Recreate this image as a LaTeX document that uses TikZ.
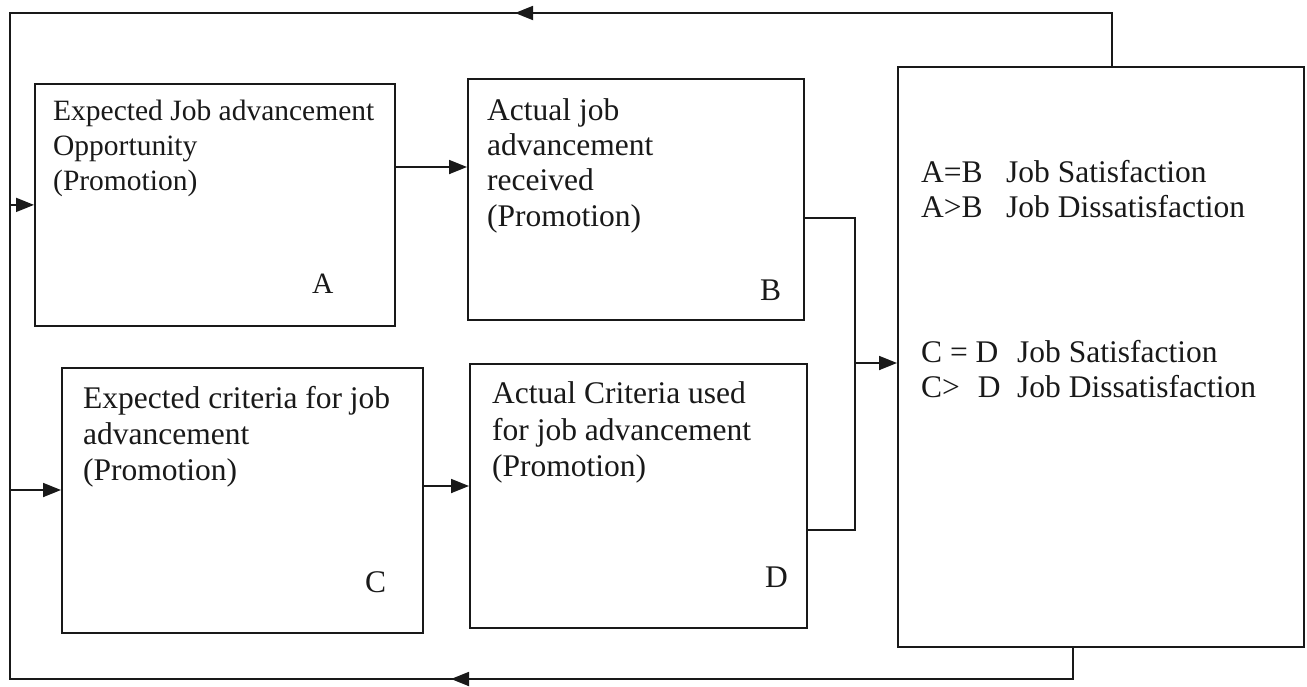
\documentclass[tikz,border=0pt]{standalone}
\usepackage{fontspec}
\setmainfont{Liberation Serif}
\usetikzlibrary{arrows.meta}
\begin{document}
\begin{tikzpicture}[x=1pt,y=-1pt,
  ln/.style={line width=1.8pt, color=black!90},
  box/.style={ln, draw, rectangle, inner sep=0pt, anchor=north west},
  arr/.style={ln, -{Triangle[length=18pt,width=14pt]}},
  txt/.style={anchor=base west, inner sep=0pt, text=black!90, font=\fontsize{31.5}{36}\selectfont},
  txts/.style={txt, font=\fontsize{29.5}{35}\selectfont}]
\fill[white] (0,0) rectangle (1307,686);
\useasboundingbox (0,0) rectangle (1307,686);

% boxes
\node[box, minimum width=360pt, minimum height=242pt] (A) at (34,83) {};
\node[box, minimum width=336pt, minimum height=241pt] (B) at (467,78) {};
\node[box, minimum width=361pt, minimum height=265pt] (C) at (61,367) {};
\node[box, minimum width=337pt, minimum height=264pt] (D) at (469,363) {};
\node[box, minimum width=406pt, minimum height=580pt] (R) at (897,66) {};

% texts in A
\node[txts] (a1) at (53,120) {Expected Job advancement};
\node[txts] (a2) at (53,155) {Opportunity};
\node[txts] (a3) at (53,190) {(Promotion)};
\node[txts] (la) at (312,293) {A};
% texts in B
\node[txt] (b1) at (487,120) {Actual job};
\node[txt] (b2) at (487,155) {advancement};
\node[txt] (b3) at (487,190) {received};
\node[txt] (b4) at (487,226) {(Promotion)};
\node[txt] (lb) at (760,300) {B};
% texts in C
\node[txt] (c1) at (83,408) {Expected criteria for job};
\node[txt] (c2) at (83,444) {advancement};
\node[txt] (c3) at (83,480) {(Promotion)};
\node[txt] (lc) at (365,592) {C};
% texts in D
\node[txt] (d1) at (492,403) {Actual Criteria used};
\node[txt] (d2) at (492,440) {for job advancement};
\node[txt] (d3) at (492,476) {(Promotion)};
\node[txt] (ld) at (765,587) {D};
% texts in R
\node[txt] (r1a) at (921,182) {A=B};
\node[txt] (r1b) at (1006,182) {Job Satisfaction};
\node[txt] (r2a) at (921,217) {A>B};
\node[txt] (r2b) at (1006,217) {Job Dissatisfaction};
\node[txt] (r3a) at (921,362) {C = D};
\node[txt] (r3b) at (1017,362) {Job Satisfaction};
\node[txt] (r4a) at (921,397) {C>\hspace{18pt}D};
\node[txt] (r4b) at (1017,397) {Job Dissatisfaction};

% feedback loop
\coordinate (TL) at (10,13);
\coordinate (TR) at (1112,13);
\coordinate (BL) at (10,679);
\coordinate (BR) at (1073,679);
\coordinate (TA) at (515,13);
\coordinate (BA) at (451,679);
\draw[ln] (R.north -| TR) -- (TR) -- (TL) -- (BL) -- (BR) -- (BR |- R.south);
\draw[arr] (TR) -- (TA);
\draw[arr] (BR) -- (BA);

% inputs
\coordinate (cin) at (40,490);
\draw[arr] (BL |- A.west) -- (A.west);
\draw[arr] (BL |- cin) -- (cin -| C.west);

% horizontal flows
\coordinate (ab) at (430,167);
\coordinate (cd) at (445,486);
\draw[arr] (ab -| A.east) -- (ab -| B.west);
\draw[arr] (cd -| C.east) -- (cd -| D.west);

% merge into result box
\coordinate (J) at (855,363);
\coordinate (bo) at (830,218);
\coordinate (do) at (830,530);
\draw[ln] (bo -| B.east) -- (bo -| J) -- (do -| J) -- (do -| D.east);
\draw[arr] (J) -- (J -| R.west);
\end{tikzpicture}
\end{document}
